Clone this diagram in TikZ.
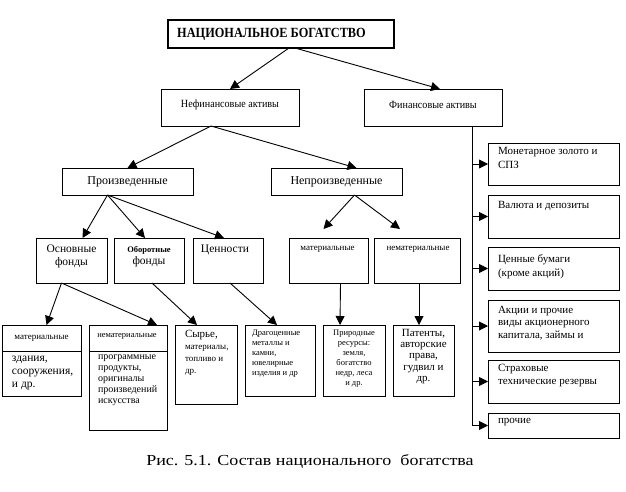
\documentclass[tikz,border=0pt]{standalone}
\usepackage{fontspec}
\setmainfont{Liberation Serif}
\usetikzlibrary{arrows.meta,calc}
\newcommand\fs[2]{\fontsize{#1}{#2}\selectfont}
\tikzset{
  box/.style={draw, line width=1pt, inner sep=0pt, outer sep=0pt},
  arr/.style={line width=0.9pt, -{Triangle[width=9pt,length=9pt]}},
  conn/.style={line width=0.9pt},
  txt/.style={inner sep=0pt, outer sep=0pt, align=left, anchor=north west},
  ctxt/.style={inner sep=0pt, outer sep=0pt, align=center, anchor=north},
}
\newcommand\bx[6][]{\node[box,#1,minimum width={#4-#2},minimum height={#5-#3}] (#6) at ({(#2+#4)/2},{(#3+#5)/2}) {};}
\begin{document}
\begin{tikzpicture}[x=1pt,y=-1pt]
\useasboundingbox (0,0) rectangle (626,491);
% boxes
\bx[line width=2.6pt]{168}{20}{394}{48}{title}
\bx{161}{89}{299}{126}{nefin}
\bx{364}{89}{502}{126}{fin}
\bx{62}{168}{193}{195}{proizv}
\bx{271}{168}{402}{195}{neproizv}
\bx{36}{238}{107}{283}{osn}
\bx{114}{238}{184}{283}{obor}
\bx{193}{238}{263}{283}{cen}
\bx{289}{238}{368}{283}{mat}
\bx{374}{238}{460}{283}{nemat}
\bx{2}{325}{81}{396}{mone}
\bx{89}{325}{167}{430}{mtwo}
\bx{175}{325}{237}{404}{syr}
\bx{245}{325}{315}{396}{drag}
\bx{323}{325}{385}{396}{prir}
\bx{393}{325}{454}{396}{pat}
\bx{488}{143}{619}{185}{rone}
\bx{488}{195}{619}{238}{rtwo}
\bx{488}{247}{619}{290}{rthree}
\bx{488}{300}{619}{352}{rfour}
\bx{488}{360}{619}{403}{rfive}
\bx{488}{413}{619}{438}{rsix}
% dividers
\draw[conn] ([yshift=-26pt]mone.north west) -- ([yshift=-26pt]mone.north east);
\draw[conn] ([yshift=-26pt]mtwo.north west) -- ([yshift=-26pt]mtwo.north east);
% texts
\node[inner sep=0pt, anchor=west, font=\fs{14}{16}\bfseries] (titleT) at ([xshift=9pt]title.west) {\scalebox{0.88}[1]{НАЦИОНАЛЬНОЕ БОГАТСТВО}};
\node[inner sep=0pt, font=\fs{11}{13}] (nefinT) at ([yshift=3pt]nefin.center) {\scalebox{0.92}[1]{Нефинансовые активы}};
\node[inner sep=0pt, font=\fs{11}{13}] (finT) at ([yshift=3pt]fin.center) {\scalebox{0.92}[1]{Финансовые активы}};
\node[inner sep=0pt, font=\fs{12}{14}] (proizvT) at (proizv.center) {Произведенные};
\node[inner sep=0pt, font=\fs{12}{14}] (neproizvT) at (neproizv.center) {Непроизведенные};
\node[ctxt, font=\fs{11.5}{13}] (osnT) at ([yshift=-7pt]osn.north) {Основные\\фонды};
\node[ctxt] (oborT) at ([yshift=-8pt]obor.north) {{\fs{8.5}{11}\bfseries Оборотные}\\{\fs{11.5}{12}фонды}};
\node[ctxt, font=\fs{11.5}{13}] (cenT) at ([xshift=-3pt,yshift=-7pt]cen.north) {Ценности};
\node[ctxt, font=\fs{9}{11}] (matT) at ([xshift=-1pt,yshift=-8pt]mat.north) {материальные};
\node[ctxt, font=\fs{9}{11}] (nematT) at ([xshift=1pt,yshift=-8pt]nemat.north) {нематериальные};
\node[inner sep=0pt, font=\fs{9}{11}] (moneH) at ([yshift=-13pt]mone.north) {материальные};
\node[txt, font=\fs{11.5}{13}] (moneT) at ([xshift=10pt,yshift=-31pt]mone.north west) {здания,\\сооружения,\\и др.};
\node[inner sep=0pt, font=\fs{8.5}{10}] (mtwoH) at ([xshift=-1pt,yshift=-11pt]mtwo.north) {нематериальные};
\node[txt, font=\fs{10}{11}] (mtwoT) at ([xshift=9pt,yshift=-30pt]mtwo.north west) {программные\\продукты,\\оригиналы\\произведений\\искусства};
\node[txt] (syrT) at ([xshift=10pt,yshift=-5pt]syr.north west) {{\fs{11}{12}Сырье,}\\{\fs{9}{11}материалы,}\\{\fs{9}{11}топливо и}\\{\fs{9}{11}др.}};
\node[txt, font=\fs{8.5}{10}] (dragT) at ([xshift=7pt,yshift=-5pt]drag.north west) {Драгоценные\\металлы и\\камни,\\ювелирные\\изделия и др};
\node[ctxt, font=\fs{8.5}{10}] (prirT) at ([yshift=-5pt]prir.north) {Природные\\ресурсы:\\земля,\\богатство\\недр, леса\\и др.};
\node[ctxt, font=\fs{11}{11.3}] (patT) at ([yshift=-4pt]pat.north) {Патенты,\\авторские\\права,\\гудвил и\\др.};
\node[txt, font=\fs{11}{14}] (roneT) at ([xshift=10pt,yshift=-4pt]rone.north west) {Монетарное золото и\\СПЗ};
\node[txt, font=\fs{11}{14}] (rtwoT) at ([xshift=10pt,yshift=-6pt]rtwo.north west) {Валюта и депозиты};
\node[txt, font=\fs{11}{14}] (rthreeT) at ([xshift=10pt,yshift=-8pt]rthree.north west) {Ценные бумаги\\(кроме акций)};
\node[txt, font=\fs{11}{12.5}] (rfourT) at ([xshift=10pt,yshift=-6pt]rfour.north west) {Акции и прочие\\виды акционерного\\капитала, займы и};
\node[txt, font=\fs{11}{13}] (rfiveT) at ([xshift=10pt,yshift=-4pt]rfive.north west) {Страховые\\технические резервы};
\node[txt, font=\fs{11}{13}] (rsixT) at ([xshift=10pt,yshift=-5pt]rsix.north west) {прочие};
\node[inner sep=0pt, font=\fs{18}{20}] (caption) at (310,461) {\scalebox{1}[0.85]{Рис. 5.1. Состав национального \ богатства}};
% connectors
\draw[arr] ([xshift=8pt]title.south) -- (nefin.north);
\draw[arr] ([xshift=14pt]title.south) -- ([xshift=7pt]fin.north);
\draw[arr] ([xshift=-19pt]nefin.south) -- (proizv.north);
\draw[arr] ([xshift=-19pt]nefin.south) -- ([xshift=20pt]neproizv.north);
\draw[arr] ([xshift=-20pt]proizv.south) -- ([xshift=11pt]osn.north);
\draw[arr] ([xshift=-20pt]proizv.south) -- ([xshift=-4pt]obor.north);
\draw[arr] ([xshift=-20pt]proizv.south) -- ([xshift=-4pt]cen.north);
\draw[arr] ([xshift=18pt]neproizv.south) -- ([xshift=-5pt,yshift=9pt]mat.north);
\draw[arr] ([xshift=18pt]neproizv.south) -- ([xshift=-17pt,yshift=9pt]nemat.north);
\draw[arr] ([xshift=-10pt]osn.south) -- ([xshift=5pt]mone.north);
\draw[arr] ([xshift=-10pt]osn.south) -- ([xshift=29pt]mtwo.north);
\draw[arr] ([xshift=3pt]obor.south) -- ([xshift=-9pt]syr.north);
\draw[arr] ([xshift=2pt]cen.south) -- ([xshift=-3pt]drag.north);
\draw[arr] ([xshift=12pt]mat.south) -- ([xshift=-14pt]prir.north);
\draw[arr] ([xshift=2pt]nemat.south) -- ([xshift=-4.5pt]pat.north);
\coordinate (spine) at ([xshift=39pt]fin.south);
\draw[arr] (spine) |- (rsix.west);
\draw[arr] (spine |- rone.west) -- (rone.west);
\draw[arr] (spine |- rtwo.west) -- (rtwo.west);
\draw[arr] (spine |- rthree.west) -- (rthree.west);
\draw[arr] (spine |- rfour.west) -- (rfour.west);
\draw[arr] (spine |- rfive.west) -- (rfive.west);
\end{tikzpicture}
\end{document}
